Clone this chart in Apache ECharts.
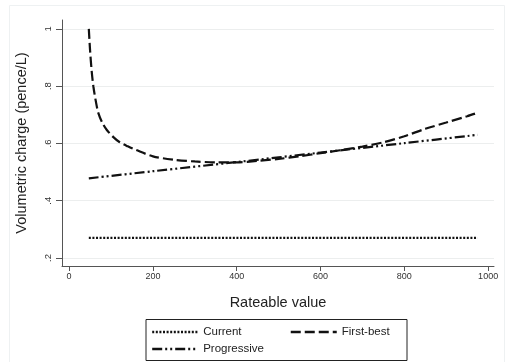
<!DOCTYPE html>
<html>
<head>
<meta charset="utf-8">
<script src="https://cdn.jsdelivr.net/npm/echarts@6/dist/echarts.min.js"></script>
<style>
html,body{margin:0;padding:0;background:#fff;}
#chart{width:510px;height:362px;}
</style>
</head>
<body>
<div id="chart"></div>
<script>
// ---- data ----
const xTickValues = [0, 200, 400, 600, 800, 1000];
const xTickLabels = ['0', '200', '400', '600', '800', '1000'];
const yTickValues = [0.2, 0.4, 0.6, 0.8, 1.0];
const yTickLabels = ['.2', '.4', '.6', '.8', '1'];

const currentX = [47, 975];
const currentY = [0.27, 0.27];

const firstBestX = [47, 50, 54, 58, 64, 70, 80, 90, 105, 120, 140, 160, 200, 250, 300, 350, 400, 450, 500, 550, 600, 650, 700, 750, 800, 850, 900, 950, 975];
const firstBestY = [1.0, 0.925, 0.85, 0.798, 0.745, 0.705, 0.67, 0.647, 0.623, 0.605, 0.59, 0.577, 0.555, 0.543, 0.537, 0.534, 0.534, 0.539, 0.546, 0.555, 0.566, 0.577, 0.589, 0.604, 0.625, 0.651, 0.673, 0.695, 0.707];

const progressiveX = [47, 200, 400, 600, 800, 975];
const progressiveY = [0.478, 0.503, 0.535, 0.568, 0.601, 0.630];

function pairs(xs, ys) { return xs.map((x, i) => [x, ys[i]]); }

const FONT = '"Liberation Sans", Arial, Helvetica, sans-serif';
const chart = echarts.init(document.getElementById('chart'), null, {renderer: 'canvas'});

const lineCommon = {
  type: 'line', symbol: 'none', showSymbol: false, animation: false,
  xAxisIndex: 0, yAxisIndex: 0
};

const legendCommon = {
  orient: 'horizontal', itemWidth: 46, itemHeight: 12,
  textStyle: {fontFamily: FONT, fontSize: 11.5, color: '#222'},
  itemStyle: {opacity: 0, borderWidth: 0},
  lineStyle: {width: 2.4},
  padding: 0
};

chart.setOption({
  animation: false,
  backgroundColor: '#ffffff',
  graphic: [
    {type: 'rect', silent: true, shape: {x: 9.5, y: 5.5, width: 495, height: 370},
     style: {fill: 'none', stroke: '#eef1f2', lineWidth: 1}, z: -10},
    {type: 'rect', silent: true, shape: {x: 146, y: 319.5, width: 261, height: 41},
     style: {fill: 'none', stroke: '#222', lineWidth: 1}}
  ],
  grid: {left: 62, right: 16, top: 20, bottom: 96, containLabel: false},
  xAxis: {
    type: 'value', min: -17, max: 1014,
    name: 'Rateable value', nameLocation: 'middle', nameGap: 29,
    nameTextStyle: {fontFamily: FONT, fontSize: 14.5, color: '#222'},
    axisLine: {show: true, onZero: false, lineStyle: {color: '#555', width: 1}},
    axisTick: {show: true, length: 5, customValues: xTickValues, lineStyle: {color: '#555'}},
    axisLabel: {
      customValues: xTickValues, margin: 6, fontFamily: FONT, fontSize: 9, color: '#333',
      formatter: v => xTickLabels[xTickValues.indexOf(v)]
    },
    splitLine: {show: false}
  },
  yAxis: {
    type: 'value', min: 0.172, max: 1.031,
    name: 'Volumetric charge (pence/L)', nameLocation: 'middle', nameGap: 33,
    nameTextStyle: {fontFamily: FONT, fontSize: 14.5, color: '#222'},
    axisLine: {show: true, onZero: false, lineStyle: {color: '#555', width: 1}},
    axisTick: {show: true, length: 6, customValues: yTickValues, lineStyle: {color: '#555'}},
    axisLabel: {
      customValues: yTickValues, rotate: 90, margin: 9, fontFamily: FONT, fontSize: 9.5, color: '#333',
      formatter: v => yTickLabels[yTickValues.findIndex(t => Math.abs(t - v) < 1e-6)]
    },
    splitLine: {show: true, lineStyle: {color: '#eceeee', width: 1}}
  },
  legend: [
    Object.assign({}, legendCommon, {data: ['Current', 'First-best'], left: 151, top: 326, itemGap: 48}),
    Object.assign({}, legendCommon, {data: ['Progressive'], left: 151, top: 343})
  ],
  series: [
    Object.assign({}, lineCommon, {
      name: 'Current', data: pairs(currentX, currentY),
      lineStyle: {color: '#111', width: 2.2, type: [2, 1.6], cap: 'butt'},
      itemStyle: {color: '#111'}
    }),
    Object.assign({}, lineCommon, {
      name: 'First-best', data: pairs(firstBestX, firstBestY), smooth: 0.3,
      lineStyle: {color: '#111', width: 2.2, type: [10, 4], cap: 'butt'},
      itemStyle: {color: '#111'}
    }),
    Object.assign({}, lineCommon, {
      name: 'Progressive', data: pairs(progressiveX, progressiveY), smooth: 0.3,
      lineStyle: {color: '#111', width: 2.2, type: [10, 3, 2, 3, 2, 3], cap: 'butt'},
      itemStyle: {color: '#111'}
    })
  ]
});
</script>
</body>
</html>
